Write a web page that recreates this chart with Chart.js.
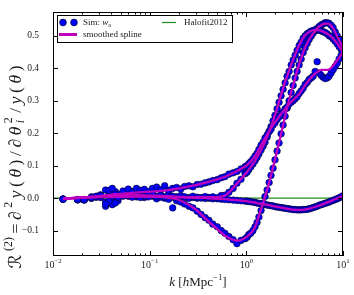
<!DOCTYPE html>
<html>
<head>
<meta charset="utf-8">
<script src="https://cdn.jsdelivr.net/npm/chart.js@4"></script>
<style>
html, body { margin: 0; padding: 0; background: #fff; overflow: hidden; }
#wrap { width: 354px; height: 295px; }
canvas { display: block; }
</style>
</head>
<body>
<div id="wrap"><canvas id="chart-1"></canvas></div>
<script>
// k bins of the simulation points [h/Mpc]
const kSim = [0.0127, 0.018, 0.021, 0.025, 0.028, 0.031, 0.035, 0.038, 0.041, 0.044,
	0.047, 0.053, 0.06, 0.066, 0.073, 0.08, 0.088, 0.097, 0.107, 0.118,
	0.13, 0.143, 0.157, 0.173, 0.19, 0.21, 0.23, 0.255, 0.28, 0.31,
	0.34, 0.375, 0.41, 0.45, 0.5, 0.55, 0.6, 0.66, 0.73, 0.8,
	0.88, 0.97,
	1.02, 1.06, 1.11, 1.17, 1.23, 1.29, 1.35, 1.42, 1.49, 1.56,
	1.64, 1.72, 1.8, 1.89, 1.98, 2.08, 2.18, 2.29, 2.4, 2.52,
	2.64, 2.77, 2.91, 3.05, 3.2, 3.35, 3.52, 3.69, 3.87, 4.06,
	4.26, 4.46, 4.68, 4.91, 5.15, 5.4, 5.67, 5.94, 6.23, 6.53,
	6.85, 7.18, 7.53, 7.9, 8.29, 8.7, 9.12, 9.57, 9.95];

const simA = [-0.003, -0.004, -0.005, 0.002, 0.006, 0.008, -0.018, 0.024, 0.03, 0.012,
	0.003, 0.022, 0.028, 0.018, 0.03, 0.024, 0.027, 0.02, 0.03, 0.034,
	0.026, 0.038, 0.024, 0.03, 0.033, 0.028, 0.036, 0.038, 0.035, 0.042,
	0.043, 0.047, 0.05, 0.054, 0.057, 0.063, 0.066, 0.074, 0.078, 0.082,
	0.09, 0.097,
	0.1, 0.106, 0.112, 0.12, 0.13, 0.138, 0.15, 0.163, 0.172, 0.185,
	0.194, 0.205, 0.212, 0.225, 0.232, 0.242, 0.25, 0.258, 0.265, 0.275,
	0.28, 0.29, 0.295, 0.3, 0.306, 0.312, 0.322, 0.33, 0.338, 0.35,
	0.356, 0.365, 0.37, 0.375, 0.39, 0.42, 0.385, 0.378, 0.372, 0.368,
	0.37, 0.375, 0.385, 0.395, 0.405, 0.415, 0.428, 0.44, 0.45];

const simB = [-0.003, -0.005, -0.004, 0.004, 0.003, 0.01, 0.025, -0.01, 0.018, -0.015,
	0.012, 0.015, 0.008, 0.02, 0.012, 0.015, 0.006, 0.012, 0.018, 0.005,
	0.01, 0.004, 0.012, 0.006, 0.002, 0.008, 0.004, 0.0, 0.006, 0.003,
	0.001, 0.005, 0.002, 0.004, 0.001, 0.008, 0.009, 0.018, 0.03, 0.046,
	0.058, 0.075,
	0.08, 0.088, 0.096, 0.105, 0.115, 0.125, 0.136, 0.148, 0.16, 0.172,
	0.188, 0.205, 0.22, 0.238, 0.255, 0.275, 0.295, 0.315, 0.335, 0.355,
	0.375, 0.39, 0.41, 0.425, 0.44, 0.455, 0.47, 0.48, 0.492, 0.5,
	0.506, 0.51, 0.514, 0.516, 0.518, 0.518, 0.517, 0.515, 0.512, 0.51,
	0.506, 0.5, 0.497, 0.49, 0.483, 0.475, 0.466, 0.458, 0.45];

const simC = [-0.003, -0.005, -0.006, 0.0, 0.004, 0.002, -0.025, 0.01, -0.005, 0.005,
	0.0, 0.01, 0.006, 0.003, 0.008, 0.002, 0.006, 0.004, 0.01, -0.002,
	0.003, 0.0, -0.003, -0.03, -0.008, -0.012, -0.018, -0.025, -0.03, -0.04,
	-0.05, -0.06, -0.068, -0.08, -0.088, -0.1, -0.108, -0.118, -0.128, -0.14,
	-0.13, -0.125,
	-0.12, -0.112, -0.108, -0.1, -0.088, -0.075, -0.058, -0.038, -0.015, 0.005,
	0.025, 0.048, 0.07, 0.092, 0.118, 0.145, 0.17, 0.198, 0.225, 0.252,
	0.277, 0.3, 0.325, 0.347, 0.37, 0.39, 0.41, 0.428, 0.448, 0.463,
	0.476, 0.488, 0.498, 0.508, 0.515, 0.522, 0.528, 0.533, 0.536, 0.54,
	0.54, 0.538, 0.532, 0.525, 0.512, 0.5, 0.488, 0.475, 0.462];

const simD = [-0.003, -0.005, -0.005, 0.0, 0.005, 0.004, -0.012, 0.012, -0.02, 0.02,
	-0.008, 0.006, 0.012, 0.008, 0.004, 0.01, 0.002, 0.008, 0.006, 0.003,
	0.007, 0.002, 0.005, 0.003, 0.004, 0.001, 0.003, 0.001, 0.002, 0.0,
	0.001, -0.001, 0.0, -0.002, -0.002, -0.003, -0.004, -0.005, -0.006, -0.007,
	-0.008, -0.009,
	-0.009, -0.01, -0.011, -0.012, -0.013, -0.015, -0.016, -0.017, -0.018, -0.02,
	-0.021, -0.022, -0.023, -0.024, -0.026, -0.027, -0.028, -0.029, -0.03, -0.031,
	-0.032, -0.033, -0.034, -0.035, -0.035, -0.036, -0.036, -0.036, -0.035, -0.035,
	-0.034, -0.033, -0.031, -0.029, -0.027, -0.025, -0.022, -0.02, -0.018, -0.016,
	-0.014, -0.012, -0.009, -0.007, -0.004, -0.002, 0.001, 0.004, 0.007];

// knots of the smoothed splines
const kSpline = [0.0127, 0.02, 0.03, 0.045, 0.065, 0.1, 0.15, 0.2, 0.3, 0.4,
	0.5, 0.6, 0.7, 0.8, 0.9, 1.0, 1.2, 1.4, 1.6, 1.8,
	2.0, 2.3, 2.6, 3.0, 3.5, 4.0, 4.5, 5.0, 5.5, 6.0,
	6.5, 7.0, 7.5, 8.0, 9.0, 10.0];

const splineA = [-0.002, 0.002, 0.006, 0.012, 0.016, 0.02, 0.024, 0.03, 0.04, 0.05,
	0.058, 0.066, 0.075, 0.083, 0.092, 0.1, 0.125, 0.16, 0.19, 0.215,
	0.235, 0.26, 0.28, 0.3, 0.32, 0.345, 0.365, 0.38, 0.39, 0.395,
	0.395, 0.395, 0.4, 0.41, 0.43, 0.45];

const splineB = [-0.002, 0.003, 0.005, 0.008, 0.01, 0.008, 0.006, 0.004, 0.003, 0.003,
	0.003, 0.008, 0.025, 0.045, 0.062, 0.078, 0.11, 0.145, 0.18, 0.22,
	0.26, 0.32, 0.37, 0.42, 0.47, 0.5, 0.512, 0.517, 0.517, 0.515,
	0.51, 0.505, 0.498, 0.49, 0.47, 0.45];

const splineC = [-0.002, 0.002, 0.004, 0.006, 0.006, 0.005, 0.002, -0.005, -0.035, -0.07,
	-0.095, -0.115, -0.126, -0.131, -0.128, -0.12, -0.095, -0.04, 0.015, 0.07,
	0.125, 0.2, 0.27, 0.34, 0.41, 0.46, 0.49, 0.51, 0.525, 0.533,
	0.537, 0.537, 0.532, 0.52, 0.49, 0.46];

const splineD = [-0.002, 0.001, 0.003, 0.004, 0.005, 0.005, 0.004, 0.003, 0.001, 0.0,
	-0.002, -0.003, -0.005, -0.006, -0.008, -0.009, -0.013, -0.017, -0.02, -0.023,
	-0.026, -0.029, -0.032, -0.035, -0.036, -0.035, -0.032, -0.028, -0.024, -0.02,
	-0.016, -0.012, -0.009, -0.005, 0.001, 0.007];

const kHalofit = [0.01, 10];
const halofit = [0, 0];

const xTicks = [0.01, 0.1, 1, 10];
const xTickExponents = ['\u22122', '\u22121', '0', '1'];
const yTicks = [-0.1, 0.0, 0.1, 0.2, 0.3, 0.4, 0.5];

function pts(ks, vs) {
	return ks.map(function(k, i) { return {x: k, y: vs[i]}; });
}

const serif = "'Liberation Serif', 'DejaVu Serif', 'DejaVu Sans', serif";
const textColour = '#1a1a1a';
const simColour = '#0000ff';
const splineColour = '#bf00bf';
const halofitColour = '#1f8f1f';

// draws a list of [text, kind] runs starting at x, returns width
function runs(ctx, list, x, y, size, measureOnly, gap) {
	var w = 0;
	gap = gap || 0;
	list.forEach(function(r, n) {
		var t = r[0], kind = r[1];
		var small = size * 0.68;
		if (n > 0) w += gap;
		if (kind == 'subsup') {
			var parts = t.split('|');
			ctx.font = 'italic ' + small + 'px ' + serif;
			var w1 = ctx.measureText(parts[0]).width;
			ctx.font = small + 'px ' + serif;
			var w2 = ctx.measureText(parts[1]).width;
			if (!measureOnly) {
				ctx.font = 'italic ' + small + 'px ' + serif;
				ctx.fillText(parts[0], x + w, y + size * 0.3);
				ctx.font = small + 'px ' + serif;
				ctx.fillText(parts[1], x + w, y - size * 0.38);
			}
			w += Math.max(w1, w2) + 1;
			return;
		}
		var f = (kind == 'i' ? 'italic ' : '') + ((kind == 'sup' || kind == 'sub') ? small : size) + 'px ' + serif;
		ctx.font = f;
		var dy = kind == 'sup' ? -size * 0.38 : (kind == 'sub' ? size * 0.3 : 0);
		if (!measureOnly) ctx.fillText(t, x + w, y + dy);
		w += ctx.measureText(t).width;
	});
	return w;
}

const yTitle = [['\u211B', 'n'], ['(2)', 'sup'], ['=', 'n'], ['\u2202', 'n'], ['2', 'sup'], ['y', 'i'], ['(', 'n'], ['\u03B8', 'i'],
	[')', 'n'], ['/', 'n'], ['\u2202', 'n'], ['\u03B8', 'i'], ['i|2', 'subsup'], ['/', 'n'], ['y', 'i'], ['(', 'n'], ['\u03B8', 'i'], [')', 'n']];
const xTitle = [['k', 'i'], [' [', 'n'], ['h', 'i'], ['Mpc', 'n'], ['\u22121', 'sup'], [']', 'n']];

var framePlugin = {
	id: 'frame',
	afterDraw: function(chart) {
		const ctx = chart.ctx, a = chart.chartArea;
		const xs = chart.scales.x, ys = chart.scales.y;
		ctx.save();
		ctx.strokeStyle = '#000';
		ctx.lineWidth = 1;
		ctx.strokeRect(a.left + 0.5, a.top + 0.5, a.right - a.left - 1, a.bottom - a.top - 1);

		// inward ticks, minor ones on the log axis
		ctx.beginPath();
		for (var e = -2; e <= 1; e++) {
			for (var m = 1; m <= 9; m++) {
				var v = m * Math.pow(10, e);
				if (v > 10.0001) break;
				var px = Math.round(xs.getPixelForValue(v)) + 0.5;
				var len = m == 1 ? 5 : 2.5;
				ctx.moveTo(px, a.bottom); ctx.lineTo(px, a.bottom - len);
				ctx.moveTo(px, a.top); ctx.lineTo(px, a.top + len);
			}
		}
		yTicks.forEach(function(v) {
			var py = Math.round(ys.getPixelForValue(v)) + 0.5;
			ctx.moveTo(a.left, py); ctx.lineTo(a.left + 5, py);
			ctx.moveTo(a.right, py); ctx.lineTo(a.right - 5, py);
		});
		ctx.stroke();

		// x tick labels, 10 with a raised exponent
		ctx.fillStyle = textColour;
		ctx.textBaseline = 'middle';
		ctx.textAlign = 'left';
		xTicks.forEach(function(v, i) {
			var lab = [['10', 'n'], [xTickExponents[i], 'sup']];
			var w = runs(ctx, lab, 0, 0, 10, true);
			runs(ctx, lab, xs.getPixelForValue(v) - w / 2, a.bottom + 9, 10);
		});

		// legend box
		ctx.fillStyle = '#fff';
		ctx.fillRect(57, 15, 175, 27);
		ctx.strokeRect(57.5, 15.5, 175, 27);
		ctx.fillStyle = simColour;
		ctx.strokeStyle = '#000';
		ctx.lineWidth = 0.6;
		[63, 74].forEach(function(cx) {
			ctx.beginPath();
			ctx.arc(cx, 22.5, 3.4, 0, Math.PI * 2);
			ctx.fill();
			ctx.stroke();
		});
		ctx.strokeStyle = halofitColour;
		ctx.lineWidth = 1.2;
		ctx.beginPath(); ctx.moveTo(162, 22.5); ctx.lineTo(176, 22.5); ctx.stroke();
		ctx.strokeStyle = splineColour;
		ctx.lineWidth = 3;
		ctx.beginPath(); ctx.moveTo(59, 34.5); ctx.lineTo(77, 34.5); ctx.stroke();

		ctx.fillStyle = textColour;
		runs(ctx, [['Sim: ', 'n'], ['w', 'i'], ['a', 'sub']], 83, 22.5, 9);
		runs(ctx, [['Halofit2012', 'n']], 184, 22.5, 9);
		runs(ctx, [['smoothed spline', 'n']], 83, 34.5, 9);

		// axis titles
		var wx = runs(ctx, xTitle, 0, 0, 13, true);
		runs(ctx, xTitle, (a.left + a.right) / 2 - wx / 2, 283, 13);
		var ySize = 17.5;
		var w0 = runs(ctx, yTitle, 0, 0, ySize, true);
		var gap = Math.max(0, (203 - w0) / (yTitle.length - 1));
		var wy = runs(ctx, yTitle, 0, 0, ySize, true, gap);
		ctx.translate(16, 167);
		ctx.rotate(-Math.PI / 2);
		runs(ctx, yTitle, -wy / 2, 0, ySize, false, gap);
		ctx.restore();
	}
};

var datasets = [{
	type: 'line',
	label: 'Halofit2012',
	data: pts(kHalofit, halofit),
	borderColor: halofitColour,
	borderWidth: 1.2,
	pointRadius: 0,
	order: 3
}];

[simA, simB, simC, simD].forEach(function(s) {
	datasets.push({
		type: 'scatter',
		label: 'Sim: w_a',
		data: pts(kSim, s),
		backgroundColor: simColour,
		borderColor: '#000022',
		borderWidth: 0.6,
		pointRadius: 3.3,
		order: 2
	});
});

[splineA, splineB, splineC, splineD].forEach(function(s) {
	datasets.push({
		type: 'line',
		label: 'smoothed spline',
		data: pts(kSpline, s),
		borderColor: splineColour,
		borderWidth: 2.3,
		pointRadius: 0,
		cubicInterpolationMode: 'monotone',
		order: 1
	});
});

var options = {
	animation: false,
	responsive: true,
	maintainAspectRatio: false,
	devicePixelRatio: 1,
	layout: { padding: { left: 0, right: 11, top: 12, bottom: 0 } },
	plugins: {
		legend: { display: false },
		tooltip: { enabled: false }
	},
	scales: {
		x: {
			type: 'logarithmic',
			min: 0.01,
			max: 10,
			grid: { display: false },
			border: { display: false },
			afterBuildTicks: function(scale) {
				scale.ticks = xTicks.map(function(v) { return {value: v}; });
			},
			afterFit: function(scale) { scale.height = 39; },
			ticks: { display: false }
		},
		y: {
			type: 'linear',
			min: -0.178,
			max: 0.573,
			grid: { display: false },
			border: { display: false },
			afterBuildTicks: function(scale) {
				scale.ticks = yTicks.map(function(v) { return {value: v}; });
			},
			afterFit: function(scale) { scale.width = 53; },
			ticks: {
				padding: 6,
				color: textColour,
				font: { family: serif, size: 9.5 },
				callback: function(value) { return value.toFixed(1).replace('-', '\u2212'); }
			}
		}
	}
};

var graph = new Chart('chart-1', {
	type: 'scatter',
	data: { datasets: datasets },
	options: options,
	plugins: [framePlugin]
});
</script>
</body>
</html>
